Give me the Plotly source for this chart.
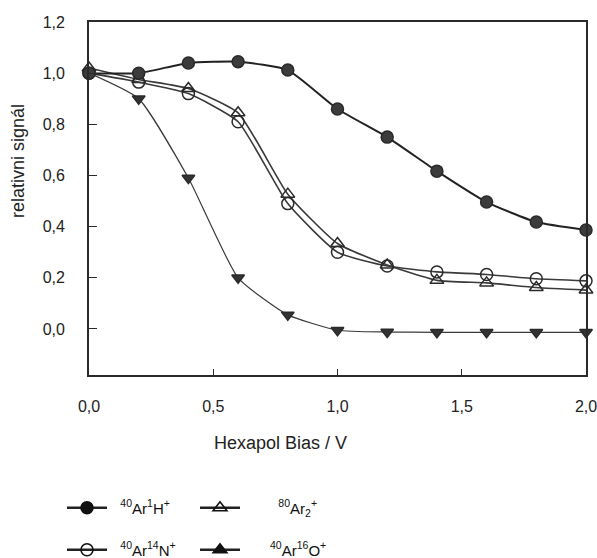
import plotly.graph_objects as go

bias = [0.0, 0.2, 0.4, 0.6, 0.8, 1.0, 1.2, 1.4, 1.6, 1.8, 2.0]
ar_h = [1.0, 1.0, 1.04, 1.045, 1.012, 0.86, 0.75, 0.617, 0.496, 0.418, 0.387]
ar_n = [1.0, 0.965, 0.92, 0.81, 0.49, 0.30, 0.246, 0.223, 0.213, 0.196, 0.188]
ar2 = [1.02, 0.975, 0.94, 0.845, 0.527, 0.334, 0.25, 0.19, 0.18, 0.162, 0.152]
ar_o = [1.0, 0.90, 0.59, 0.20, 0.055, -0.005, -0.012, -0.013, -0.013, -0.013, -0.013]

x_ticks = [0.0, 0.5, 1.0, 1.5, 2.0]
x_ticktext = ["0,0", "0,5", "1,0", "1,5", "2,0"]
y_ticks = [0.0, 0.2, 0.4, 0.6, 0.8, 1.0, 1.2]
y_ticktext = ["0,0", "0,2", "0,4", "0,6", "0,8", "1,0", "1,2"]

lbl_h = "<sup>40</sup>Ar<sup>1</sup>H<sup>+</sup>"
lbl_2 = "<sup>80</sup>Ar<sub>2</sub><sup>+</sup>"
lbl_n = "<sup>40</sup>Ar<sup>14</sup>N<sup>+</sup>"
lbl_o = "<sup>40</sup>Ar<sup>16</sup>O<sup>+</sup>"

FONT = "Liberation Sans, Arial, sans-serif"
DARK = "#2a2a2a"
NB = "&nbsp;"

L, R, T, B = 89, 11, 22, 183
PW = 597 - L - R
PH = 558 - T - B


def px_x(px):
    return (px - L) / PW


def px_y(py):
    return (558 - B - py) / PH


fig = go.Figure()


def add(y, sym, fill, lw, ms, lcol, name):
    fig.add_trace(go.Scatter(
        x=bias, y=y, mode="lines+markers", name=name, showlegend=False,
        line=dict(color=lcol, width=lw, shape="spline", smoothing=0.5),
        marker=dict(symbol=sym, size=ms, color=fill,
                    line=dict(color=DARK, width=1.5)),
        cliponaxis=False,
    ))


add(ar_o, "triangle-down", "#333333", 1.2, 11, "#3a3a3a", lbl_o)
add(ar2, "triangle-up-open", DARK, 1.6, 12, "#3a3a3a", lbl_2)
add(ar_n, "circle-open", DARK, 1.6, 12, "#3a3a3a", lbl_n)
add(ar_h, "circle", "#3c3c3c", 2.0, 12, "#222222", lbl_h)


def leg(sym, fill, name, legend):
    fig.add_trace(go.Scatter(
        x=[None], y=[None], mode="lines+markers", name=name, legend=legend,
        line=dict(color="#222222", width=2.5),
        marker=dict(symbol=sym, size=12, color=fill,
                    line=dict(color="#111111", width=1.6)),
    ))


leg("circle", "#111111", NB * 2 + lbl_h, "legend")
leg("triangle-up-open", "#111111", NB * 8 + lbl_2, "legend")
leg("circle-open", "#111111", NB * 2 + lbl_n, "legend2")
leg("triangle-up", "#111111", NB * 6 + lbl_o, "legend2")

leg_common = dict(orientation="h", xref="paper", yref="paper",
                  xanchor="left", yanchor="middle", entrywidth=78,
                  entrywidthmode="pixels", itemwidth=40,
                  font=dict(family=FONT, size=15, color="#111111"),
                  bgcolor="rgba(0,0,0,0)", itemclick=False)

fig.update_layout(
    width=597, height=558,
    margin=dict(l=L, r=R, t=T, b=B, autoexpand=False),
    paper_bgcolor="white", plot_bgcolor="white",
    font=dict(family=FONT, size=17, color="#222222"),
    legend=dict(x=px_x(62), y=px_y(508), **leg_common),
    legend2=dict(x=px_x(62), y=px_y(550), **leg_common),
    xaxis=dict(range=[0, 2.0], tickvals=x_ticks, ticktext=x_ticktext,
               ticks="inside", ticklen=6, tickcolor=DARK, tickwidth=1,
               showline=True, mirror=True, linecolor=DARK, linewidth=1.8,
               showgrid=False, zeroline=False, ticklabelstandoff=16,
               automargin=False, ticklabeloverflow="allow",
               tickfont=dict(size=16, color="#222222")),
    yaxis=dict(range=[-0.18, 1.2], tickvals=y_ticks, ticktext=y_ticktext,
               ticks="inside", ticklen=8, tickcolor=DARK, tickwidth=1,
               showline=True, mirror=True, linecolor=DARK, linewidth=1.8,
               showgrid=False, zeroline=False, ticklabelstandoff=19,
               automargin=False, ticklabeloverflow="allow",
               tickfont=dict(size=16, color="#222222")),
    annotations=[
        dict(text="Hexapol Bias / V", xref="paper", yref="paper",
             x=px_x(280), y=px_y(443), showarrow=False,
             xanchor="center", yanchor="middle",
             font=dict(family=FONT, size=18, color="#222222")),
        dict(text="relativni signál", xref="paper", yref="paper",
             x=px_x(18), y=px_y(161), textangle=-90,
             showarrow=False, xanchor="center", yanchor="middle",
             font=dict(family=FONT, size=18, color="#222222")),
    ],
)

fig.write_html(
    "out.html",
    config={"displayModeBar": False},
    post_script="document.body.style.margin='0';document.body.style.overflow='hidden';",
)
